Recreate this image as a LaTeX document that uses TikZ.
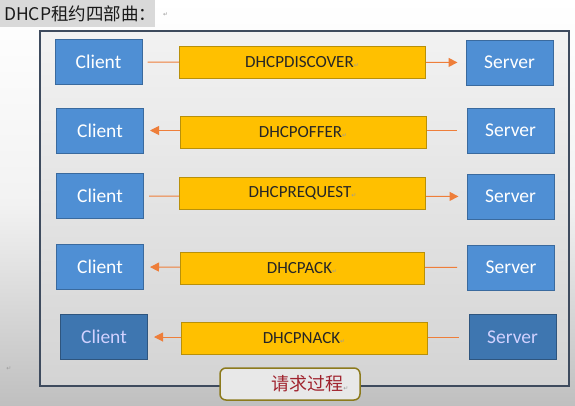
\documentclass[tikz,border=0pt]{standalone}
\usepackage{fontspec}
\setmainfont{Carlito}
\newfontfamily\cjk{Noto Sans CJK SC}
\newfontfamily\symf{DejaVu Sans}
\usetikzlibrary{arrows.meta}
\definecolor{bluefill}{HTML}{4F8FD4}
\definecolor{blueline}{HTML}{3A6A9E}
\definecolor{bluedark}{HTML}{3E76B0}
\definecolor{yellowfill}{HTML}{FFC000}
\definecolor{yellowline}{HTML}{B8900A}
\definecolor{orangec}{HTML}{EE7E3A}
\definecolor{framec}{HTML}{3E4B5E}
\definecolor{olivec}{HTML}{8C7A1C}
\definecolor{redtext}{HTML}{A0232E}
\definecolor{markc}{HTML}{9A9A9A}
\newcommand{\pmark}{{\symf\fontsize{6}{6}\selectfont\textcolor{markc}{↵}}}
\tikzset{
  hostbox/.style={draw=blueline, line width=1pt, fill=bluefill, text=white,
    font=\fontsize{19.5}{21}\selectfont, inner sep=0pt,
    minimum width=87pt, minimum height=45pt},
  hostdark/.style={hostbox, fill=bluedark, draw=blueline!80!black, text=white!82!blue},
  msgbox/.style={draw=yellowline, line width=0.8pt, fill=yellowfill, text=black!85,
    font=\fontsize{17}{18}\selectfont, inner sep=0pt,
    minimum width=246pt, minimum height=32pt},
  conn/.style={draw=orangec, line width=1pt, -{Triangle[length=9pt,width=9pt]}},
  toserver/.style={conn, shorten <=5pt, shorten >=8pt},
  toclient/.style={conn, shorten <=10pt, shorten >=6pt},
}
\begin{document}
\begin{tikzpicture}[x=1pt,y=-1pt]
\useasboundingbox (0,0) rectangle (575,405);
% background
\shade[top color=white, bottom color=black!25, middle color=black!5] (0,0) rectangle (575,405);
% title
\fill[black!15] (0,0) rectangle (155,27);
\node[anchor=west, inner sep=0pt, font=\cjk\fontsize{17.5}{19}\selectfont, text=black!90] (title) at (4,13.5) {DHCP租约四部曲：};
\node[anchor=west, inner sep=0pt] (tmark) at (163,15) {\pmark};
% frame
\node[draw=framec, line width=1.4pt, top color=black!5, bottom color=black!17,
  minimum width=529pt, minimum height=355pt, inner sep=0pt] (frame) at (304.5,208.5) {};
% hosts
\node[hostbox] (c1) at (98.5,62) {Client};
\node[hostbox] (s1) at (509.5,62.5) {Server};
\node[hostbox] (c2) at (100,130.5) {Client};
\node[hostbox] (s2) at (510.5,130.5) {Server};
\node[hostbox] (c3) at (100,196) {Client};
\node[hostbox] (s3) at (510.5,196.5) {Server};
\node[hostbox] (c4) at (100,267) {Client};
\node[hostbox] (s4) at (511,267.5) {Server};
\node[hostdark] (c5) at (104,337) {Client};
\node[hostdark] (s5) at (512.5,337) {Server};
% connectors
\draw[toserver] (c1) -- (s1);
\draw[toclient] (s2) -- (c2);
\draw[toserver] (c3) -- (s3);
\draw[toclient] (s4) -- (c4);
\draw[toclient] (s5) -- (c5);
% messages
\node[msgbox] (m1) at (302,62) {DHCPDISCOVER\pmark};
\node[msgbox] (m2) at (303,132) {DHCPOFFER\pmark};
\node[msgbox] (m3) at (302.5,193.5) {DHCPREQUEST\pmark};
\node[msgbox, minimum width=244pt] (m4) at (302,268) {DHCPACK\pmark};
\node[msgbox] (m5) at (304,338) {DHCPNACK\pmark};
% bottom label
\node[draw=olivec, line width=1.5pt, fill=black!9, rounded corners=6pt,
  minimum width=140pt, minimum height=32pt, inner sep=0pt,
  font=\cjk\fontsize{18}{19}\selectfont, text=redtext] (label) at (290,384) {\hspace*{40pt}请求过程\pmark};
\node[inner sep=0pt] (lmark) at (9,369) {\pmark};
\end{tikzpicture}
\end{document}
